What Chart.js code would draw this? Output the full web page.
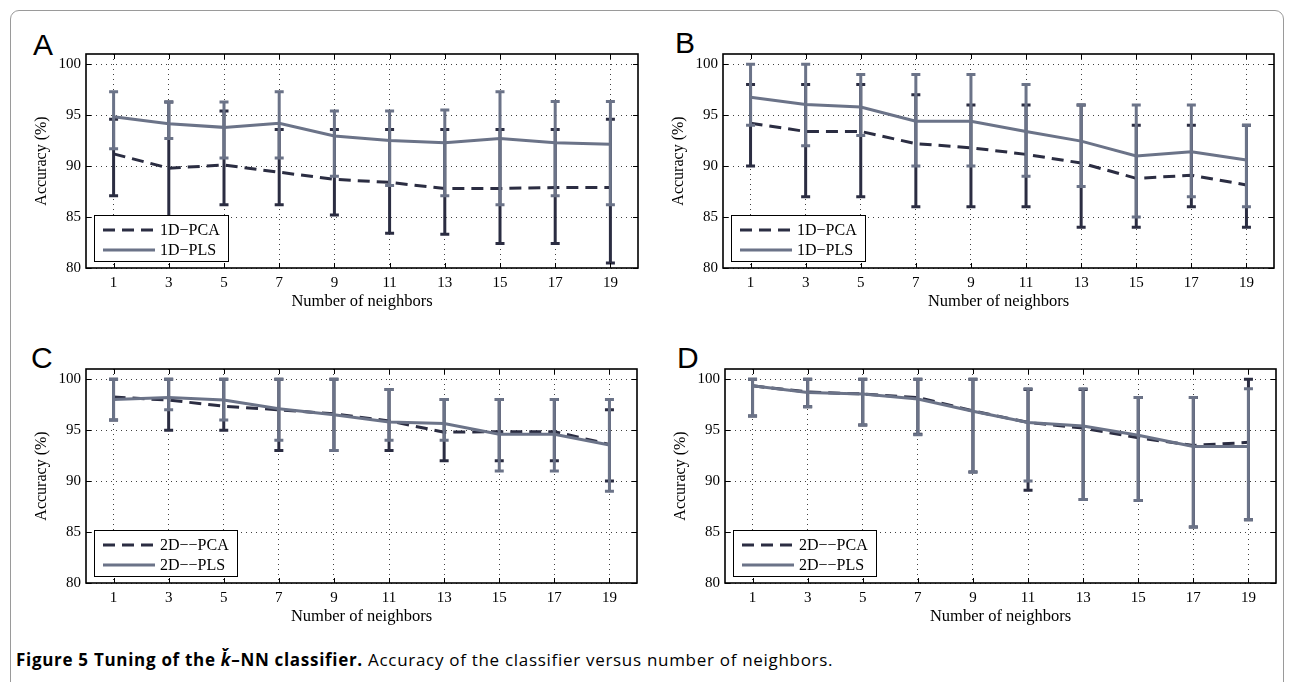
<!DOCTYPE html>
<html>
<head>
<meta charset="utf-8">
<title>Figure 5</title>
<script src="https://cdn.jsdelivr.net/npm/chart.js@4.4.1/dist/chart.umd.min.js"></script>
<style>
  body { margin: 0; width: 1290px; height: 682px; overflow: hidden; position: relative; background: #fff; }
  .frame { position: absolute; left: 10px; top: 10px; width: 1274px; height: 720px; border: 1.5px solid #9a9a9a; border-radius: 9px; box-sizing: border-box; }
  canvas { position: absolute; }
  .tag { position: absolute; font-family: 'Liberation Sans', Arial, sans-serif; font-size: 30px; line-height: 1; color: #000; }
  .caption { position: absolute; left: 16px; top: 650px; font-family: 'Open Sans', sans-serif; font-size: 17px; letter-spacing: 0.7px; line-height: 20px; color: #000; white-space: nowrap; }
  .caption b { font-weight: 700; }
</style>
</head>
<body>
<div class="frame"></div>
<div class="tag" style="left:33px; top:30px;">A</div>
<div class="tag" style="left:675px; top:28px;">B</div>
<div class="tag" style="left:31px; top:343px;">C</div>
<div class="tag" style="left:677px; top:343px;">D</div>
<canvas id="chartA" width="650" height="290" style="left:0px; top:40px;"></canvas>
<canvas id="chartB" width="640" height="290" style="left:650px; top:40px;"></canvas>
<canvas id="chartC" width="650" height="290" style="left:0px; top:355px;"></canvas>
<canvas id="chartD" width="640" height="290" style="left:650px; top:355px;"></canvas>
<div class="caption"><b>Figure 5 Tuning of the <i>ǩ</i>–NN classifier.</b> Accuracy of the classifier versus number of neighbors.</div>

<script>
// x values and axis ticks
const neighbors = [1, 3, 5, 7, 9, 11, 13, 15, 17, 19];
const accuracyTicks = [80, 85, 90, 95, 100];

// A: 1D-PCA / 1D-PLS
const pcaMeanA = [91.2, 89.8, 90.1, 89.4, 88.7, 88.4, 87.8, 87.8, 87.9, 87.9];
const pcaLowA  = [87.1, 84.6, 86.2, 86.2, 85.2, 83.4, 83.3, 82.4, 82.4, 80.5];
const pcaHighA = [94.6, 96.3, 95.4, 93.6, 93.6, 93.6, 93.6, 93.6, 93.6, 94.6];
const plsMeanA = [94.85, 94.15, 93.8, 94.2, 92.95, 92.5, 92.3, 92.7, 92.3, 92.15];
const plsLowA  = [91.7, 92.7, 90.8, 90.8, 89.0, 88.1, 87.1, 86.2, 87.1, 86.2];
const plsHighA = [97.3, 96.3, 96.3, 97.3, 95.4, 95.4, 95.5, 97.3, 96.35, 96.35];

// B: 1D-PCA / 1D-PLS
const pcaMeanB = [94.2, 93.4, 93.4, 92.2, 91.8, 91.15, 90.3, 88.8, 89.1, 88.15];
const pcaLowB  = [90, 87, 87, 86, 86, 86, 84, 84, 86, 84];
const pcaHighB = [98, 98, 98, 97, 96, 96, 96, 94, 94, 94];
const plsMeanB = [96.75, 96.05, 95.8, 94.4, 94.4, 93.4, 92.45, 91.0, 91.4, 90.6];
const plsLowB  = [94, 92, 93, 90, 90, 89, 88, 85, 87, 86];
const plsHighB = [100, 100, 99, 99, 99, 98, 96, 96, 96, 94];

// C: 2D-PCA / 2D-PLS
const pcaMeanC = [98.25, 97.95, 97.35, 97.0, 96.6, 95.9, 94.8, 94.85, 94.85, 93.6];
const pcaLowC  = [96, 95, 95, 93, 93, 93, 92, 92, 92, 90];
const pcaHighC = [100, 100, 100, 100, 100, 99, 98, 98, 98, 97];
const plsMeanC = [98.0, 98.2, 97.95, 97.1, 96.5, 95.8, 95.65, 94.6, 94.6, 93.55];
const plsLowC  = [96, 97, 96, 94, 93, 94, 94, 91, 91, 89];
const plsHighC = [100, 100, 100, 100, 100, 99, 98, 98, 98, 98];

// D: 2D-PCA / 2D-PLS
const pcaMeanD = [99.35, 98.75, 98.55, 98.2, 96.9, 95.75, 95.2, 94.25, 93.5, 93.8];
const pcaLowD  = [96.4, 97.3, 95.5, 94.6, 90.9, 89.1, 88.2, 88.1, 85.5, 86.2];
const pcaHighD = [100, 100, 100, 100, 100, 99, 99, 98.2, 98.2, 100];
const plsMeanD = [99.35, 98.7, 98.55, 98.05, 96.85, 95.75, 95.4, 94.5, 93.4, 93.4];
const plsLowD  = [96.4, 97.3, 95.5, 94.55, 90.9, 90.0, 88.2, 88.1, 85.5, 86.2];
const plsHighD = [100, 100, 100, 100, 100, 99.05, 99.05, 98.2, 98.2, 99.05];

const PCA_COLOR = '#2b2d42';
const PLS_COLOR = '#6b7388';
const SERIF = "'Liberation Serif', 'Times New Roman', serif";

// canvas box [left, top, width, height] and plot rect [left, top, right, bottom], page coords
const panels = [
  { id: 'chartA', box: [0, 40, 650, 290], plot: [86, 54, 638, 268], names: ['1D\u2212PCA', '1D\u2212PLS'],
    pca: [pcaMeanA, pcaLowA, pcaHighA], pls: [plsMeanA, plsLowA, plsHighA] },
  { id: 'chartB', box: [650, 40, 640, 290], plot: [723, 54, 1274, 268], names: ['1D\u2212PCA', '1D\u2212PLS'],
    pca: [pcaMeanB, pcaLowB, pcaHighB], pls: [plsMeanB, plsLowB, plsHighB] },
  { id: 'chartC', box: [0, 355, 650, 290], plot: [86, 369, 637, 583], names: ['2D\u2212\u2212PCA', '2D\u2212\u2212PLS'],
    pca: [pcaMeanC, pcaLowC, pcaHighC], pls: [plsMeanC, plsLowC, plsHighC] },
  { id: 'chartD', box: [650, 355, 640, 290], plot: [725, 369, 1276, 583], names: ['2D\u2212\u2212PCA', '2D\u2212\u2212PLS'],
    pca: [pcaMeanD, pcaLowD, pcaHighD], pls: [plsMeanD, plsLowD, plsHighD] }
];

// error bars, box frame with inward ticks, and matlab-ish legend
const matlabAxes = {
  id: 'matlabAxes',
  beforeDatasetDraw(chart, args) {
    const ds = chart.data.datasets[args.index];
    const xs = chart.scales.x, ys = chart.scales.y;
    const ctx = chart.ctx;
    ctx.save();
    ctx.strokeStyle = ds.borderColor;
    ctx.lineWidth = 3;
    ctx.setLineDash([]);
    ds.data.forEach((p, i) => {
      const px = xs.getPixelForValue(p.x);
      const top = ys.getPixelForValue(ds.errHigh[i]);
      const bot = ys.getPixelForValue(ds.errLow[i]);
      ctx.beginPath();
      ctx.moveTo(px, top); ctx.lineTo(px, bot);
      ctx.moveTo(px - 4.5, top); ctx.lineTo(px + 4.5, top);
      ctx.moveTo(px - 4.5, bot); ctx.lineTo(px + 4.5, bot);
      ctx.stroke();
    });
    ctx.restore();
  },
  afterDatasetsDraw(chart) {
    const { ctx, chartArea: a } = chart;
    const xs = chart.scales.x, ys = chart.scales.y;
    ctx.save();
    ctx.strokeStyle = '#000';
    ctx.lineWidth = 1;
    ctx.beginPath();
    xs.ticks.forEach(t => {
      const px = Math.round(xs.getPixelForValue(t.value)) + 0.5;
      ctx.moveTo(px, a.bottom); ctx.lineTo(px, a.bottom - 5);
      ctx.moveTo(px, a.top); ctx.lineTo(px, a.top + 5);
    });
    ys.ticks.forEach(t => {
      const py = Math.round(ys.getPixelForValue(t.value)) + 0.5;
      ctx.moveTo(a.left, py); ctx.lineTo(a.left + 5, py);
      ctx.moveTo(a.right, py); ctx.lineTo(a.right - 5, py);
    });
    ctx.stroke();
    ctx.lineWidth = 1.6;
    ctx.strokeRect(a.left, a.top, a.right - a.left, a.bottom - a.top);
    ctx.restore();
  },
  afterDraw(chart) {
    const { ctx, chartArea: a } = chart;
    const sets = chart.data.datasets;
    ctx.save();
    ctx.font = '16px ' + SERIF;
    const textW = Math.max(...sets.map(d => ctx.measureText(d.label).width));
    const w = Math.round(66 + textW + 8), h = 46;
    const x0 = a.left + 8, y0 = a.bottom - 7 - h;
    ctx.fillStyle = '#fff';
    ctx.fillRect(x0, y0, w, h);
    ctx.strokeStyle = '#000';
    ctx.lineWidth = 1;
    ctx.strokeRect(x0 + 0.5, y0 + 0.5, w, h);
    sets.forEach((d, i) => {
      const ly = y0 + 15 + i * 20;
      ctx.strokeStyle = d.borderColor;
      ctx.lineWidth = 3;
      ctx.setLineDash(d.borderDash || []);
      ctx.beginPath();
      ctx.moveTo(x0 + 9, ly); ctx.lineTo(x0 + 61, ly);
      ctx.stroke();
      ctx.setLineDash([]);
      ctx.fillStyle = '#000';
      ctx.textBaseline = 'middle';
      ctx.fillText(d.label, x0 + 66, ly + 1);
    });
    ctx.restore();
  }
};

function toPoints(values) {
  return neighbors.map((k, i) => ({ x: k, y: values[i] }));
}

panels.forEach(p => {
  const [cx, cy, cw, ch] = p.box;
  const [L, T, R, B] = p.plot;
  new Chart(document.getElementById(p.id), {
    type: 'line',
    data: {
      datasets: [{
        label: p.names[0],
        data: toPoints(p.pca[0]),
        errLow: p.pca[1],
        errHigh: p.pca[2],
        borderColor: PCA_COLOR,
        borderWidth: 3,
        borderDash: [12, 7],
        pointRadius: 0,
        order: 1
      }, {
        label: p.names[1],
        data: toPoints(p.pls[0]),
        errLow: p.pls[1],
        errHigh: p.pls[2],
        borderColor: PLS_COLOR,
        borderWidth: 3,
        pointRadius: 0,
        order: 0
      }]
    },
    options: {
      responsive: false,
      animation: false,
      devicePixelRatio: 1,
      layout: { padding: { left: 0, top: T - cy, right: cx + cw - R, bottom: 0 } },
      plugins: { legend: { display: false }, tooltip: { enabled: false } },
      scales: {
        x: {
          type: 'linear',
          min: 0,
          max: 20,
          afterBuildTicks: s => { s.ticks = neighbors.map(v => ({ value: v })); },
          afterFit: s => { s.height = cy + ch - B; },
          grid: { color: 'rgba(0,0,0,0.75)', lineWidth: 1, drawTicks: false },
          border: { display: false, dash: [1, 4] },
          ticks: { color: '#000', font: { family: SERIF, size: 15 }, padding: 6, maxRotation: 0, autoSkip: false },
          title: { display: true, text: 'Number of neighbors', color: '#000',
                   font: { family: SERIF, size: 16.5 }, padding: { top: 0, bottom: (cy + ch) - (B + 34) - 10 } }
        },
        y: {
          min: 80,
          max: 101,
          afterBuildTicks: s => { s.ticks = accuracyTicks.map(v => ({ value: v })); },
          afterFit: s => { s.width = L - cx; },
          grid: { color: 'rgba(0,0,0,0.75)', lineWidth: 1, drawTicks: false },
          border: { display: false, dash: [1, 4] },
          ticks: { color: '#000', font: { family: SERIF, size: 15 }, padding: 5 },
          title: { display: true, text: 'Accuracy (%)', color: '#000',
                   font: { family: SERIF, size: 16 }, padding: { top: (L - 44 - cx) - 10, bottom: 0 } }
        }
      }
    },
    plugins: [matlabAxes]
  });
});
</script>
</body>
</html>
